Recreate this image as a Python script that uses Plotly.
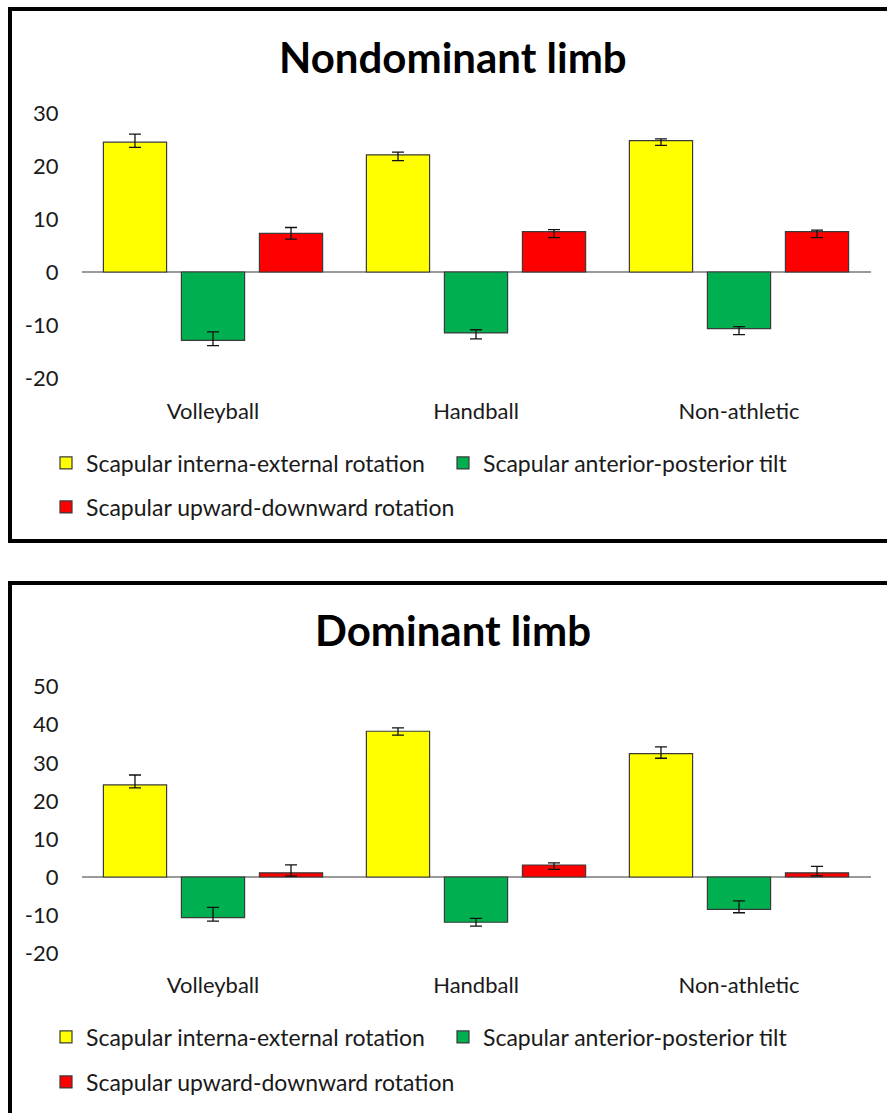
import plotly.graph_objects as go

W, H = 887, 1113

groups = ["Volleyball", "Handball", "Non-athletic"]
series_names = [
    "Scapular interna-external rotation",
    "Scapular anterior-posterior tilt",
    "Scapular upward-downward rotation",
]
series_colors = ["#FFFF00", "#00B050", "#FF0000"]

# Nondominant limb: means with upper / lower error extents
nd_rotation = [24.5, 22.1, 24.8]
nd_rotation_up = [1.5, 0.5, 0.3]
nd_rotation_dn = [1.0, 1.1, 0.9]
nd_tilt = [-12.9, -11.5, -10.7]
nd_tilt_up = [1.6, 0.6, 0.4]
nd_tilt_dn = [1.0, 1.1, 1.1]
nd_updown = [7.3, 7.6, 7.6]
nd_updown_up = [1.1, 0.4, 0.3]
nd_updown_dn = [1.1, 1.1, 1.1]

# Dominant limb
d_rotation = [24.2, 38.3, 32.4]
d_rotation_up = [2.6, 0.9, 1.8]
d_rotation_dn = [0.8, 1.0, 1.2]
d_tilt = [-10.7, -11.9, -8.5]
d_tilt_up = [2.7, 1.0, 2.2]
d_tilt_dn = [0.9, 1.0, 0.9]
d_updown = [1.1, 3.15, 1.1]
d_updown_up = [2.1, 0.55, 1.7]
d_updown_dn = [0.85, 1.15, 0.8]

nd_ticks = [-20, -10, 0, 10, 20, 30]
nd_tick_text = ["-20", "-10", "0", "10", "20", "30"]
d_ticks = [-20, -10, 0, 10, 20, 30, 40, 50]
d_tick_text = ["-20", "-10", "0", "10", "20", "30", "40", "50"]

FONT = "Lato"
TXT = "#1a1a1a"


def px_x(x):
    return x / W


def px_y(y):
    return 1 - y / H


fig = go.Figure()

panels = [
    ("x", "y", "legend", "legend2",
     [(nd_rotation, nd_rotation_up, nd_rotation_dn),
      (nd_tilt, nd_tilt_up, nd_tilt_dn),
      (nd_updown, nd_updown_up, nd_updown_dn)]),
    ("x2", "y2", "legend3", "legend4",
     [(d_rotation, d_rotation_up, d_rotation_dn),
      (d_tilt, d_tilt_up, d_tilt_dn),
      (d_updown, d_updown_up, d_updown_dn)]),
]

for xa, ya, leg_a, leg_b, data in panels:
    for i, (vals, up, dn) in enumerate(data):
        fig.add_trace(go.Bar(
            x=groups, y=vals, name=series_names[i],
            xaxis=xa, yaxis=ya,
            legend=leg_a if i < 2 else leg_b,
            marker=dict(color=series_colors[i], line=dict(color="#3a3a3a", width=1.2)),
            error_y=dict(type="data", symmetric=False, array=up, arrayminus=dn,
                         color="#111111", thickness=1.3, width=6),
        ))

axis_common = dict(showgrid=False, showline=False, ticks="",
                   tickfont=dict(family=FONT, size=22, color=TXT))

fig.update_layout(
    width=W, height=H,
    margin=dict(l=0, r=0, t=0, b=0, autoexpand=False),
    paper_bgcolor="white", plot_bgcolor="white",
    barmode="group", bargap=0.11, bargroupgap=0.19,
    showlegend=True,
    xaxis=dict(domain=[px_x(81.5), px_x(870.5)], anchor="y",
               zeroline=False, ticklabelstandoff=18, **axis_common),
    yaxis=dict(domain=[px_y(378), px_y(113)], anchor="x", range=[-20, 30],
               tickvals=nd_ticks, ticktext=nd_tick_text,
               zeroline=True, zerolinecolor="#9a9a9a",
               zerolinewidth=1.5, ticklabelstandoff=22, **axis_common),
    xaxis2=dict(domain=[px_x(81.5), px_x(870.5)], anchor="y2",
                zeroline=False, ticklabelstandoff=17, **axis_common),
    yaxis2=dict(domain=[px_y(953.1), px_y(686.7)], anchor="x2", range=[-20, 50],
                tickvals=d_ticks, ticktext=d_tick_text,
                zeroline=True, zerolinecolor="#9a9a9a",
                zerolinewidth=1.5, ticklabelstandoff=22, **axis_common),
)

leg_font = dict(family=FONT, size=23, color=TXT)
leg_x = px_x(46)
legend_rows = [("legend", 463, 352), ("legend2", 507, 420),
               ("legend3", 1037, 352), ("legend4", 1082, 420)]
for name, ycen, ew in legend_rows:
    fig.update_layout({name: dict(
        orientation="h", x=leg_x, xanchor="left", y=px_y(ycen), yanchor="middle",
        font=leg_font, entrywidth=ew, entrywidthmode="pixels",
        bgcolor="rgba(0,0,0,0)", itemclick=False, itemdoubleclick=False,
    )})

titles = [("Nondominant limb", 57), ("Dominant limb", 630)]
for text, ycen in titles:
    fig.add_annotation(text=f"<b>{text}</b>", xref="paper", yref="paper",
                       x=px_x(453), y=px_y(ycen), xanchor="center", yanchor="middle",
                       showarrow=False, font=dict(family=FONT, size=42, color="#000000"))

# Chart-area frames
fig.add_shape(type="rect", xref="paper", yref="paper",
              x0=px_x(10), x1=1.05, y0=px_y(541), y1=px_y(9),
              line=dict(color="black", width=4), fillcolor="rgba(0,0,0,0)", layer="above")
fig.add_shape(type="rect", xref="paper", yref="paper",
              x0=px_x(10), x1=1.05, y0=-0.05, y1=px_y(583),
              line=dict(color="black", width=4), fillcolor="rgba(0,0,0,0)", layer="above")

fig.write_html("out.html")
